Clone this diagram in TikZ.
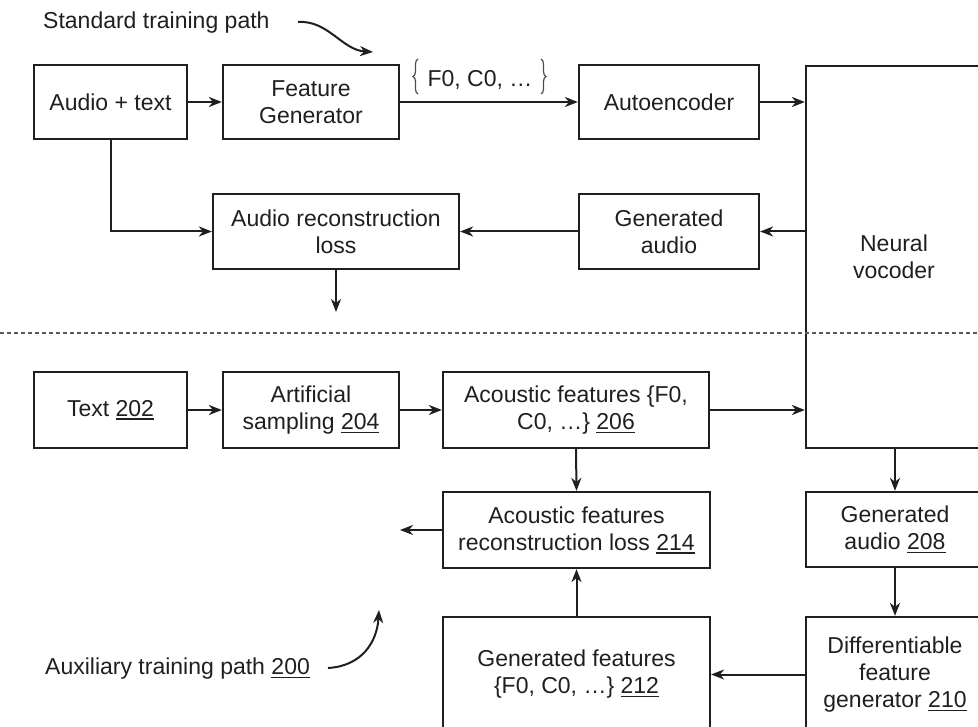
\documentclass[tikz,border=0pt]{standalone}
\usepackage{fontspec}
\setmainfont{Liberation Sans}
\usetikzlibrary{arrows.meta,decorations.pathreplacing}
\newcommand\ulnum[1]{\setbox0\hbox{#1}\rlap{\rule[-3.5pt]{\wd0}{1.4pt}}\box0}
\begin{document}
\begin{tikzpicture}[x=1pt,y=-1pt,
  box/.style={draw=black!88, line width=2.2pt, align=center, inner sep=0pt,
    font=\fontsize{23}{27}\selectfont, text=black!88},
  arr/.style={draw=black!88, line width=2pt, -{Stealth[length=13pt,width=10pt,inset=4pt]}},
  curvearr/.style={draw=black!88, line width=2pt, -{Stealth[length=13pt,width=10pt,inset=4pt]}},
  lbl/.style={font=\fontsize{23}{27}\selectfont, inner sep=0pt, text=black!88},
  brc/.style={draw=black!70, line width=1.2pt, decorate, decoration={brace, amplitude=5pt}},
]
\useasboundingbox (0,0) rectangle (978,727);
\clip (0,0) rectangle (978,727);

% top half
\node[box, minimum width=153pt, minimum height=74pt] (at) at (110.5,102) {Audio + text};
\node[box, minimum width=176pt, minimum height=74pt] (fg) at (311,102) {Feature\\Generator};
\node[box, minimum width=180pt, minimum height=74pt] (ae) at (669,102) {Autoencoder};
\node[box, minimum width=176pt, minimum height=382pt] (voc) at (894,257) {Neural\\vocoder};
\node[box, minimum width=246pt, minimum height=75pt] (arl) at (336,231.5) {Audio reconstruction\\loss};
\node[box, minimum width=180pt, minimum height=75pt] (ga) at (669,231.5) {Generated\\audio};

% bottom half
\node[box, minimum width=153pt, minimum height=76pt] (t202) at (110.5,410) {Text \ulnum{202}};
\node[box, minimum width=176pt, minimum height=76pt] (as) at (311,410) {Artificial\\sampling \ulnum{204}};
\node[box, minimum width=266pt, minimum height=76pt] (af) at (576,410) {Acoustic features \{F0,\\C0, \dots\} \ulnum{206}};
\node[box, minimum width=267pt, minimum height=76pt] (afl) at (576.5,530) {Acoustic features\\reconstruction loss \ulnum{214}};
\node[box, minimum width=267pt, minimum height=115pt] (gf) at (576.5,674.5) {Generated features\\\{F0, C0, \dots\} \ulnum{212}};
\node[box, minimum width=178pt, minimum height=75pt] (ga2) at (895,529.5) {Generated\\audio \ulnum{208}};
\node[box, minimum width=178pt, minimum height=115pt] (dfg) at (895,674.5) {Differentiable\\feature\\generator \ulnum{210}};

% feature brace label
\node[lbl, anchor=base] (feat) at (480,87) {F0, C0, \dots};
\coordinate (lb1) at (418,94); \coordinate (lb2) at (418,59);
\coordinate (rb1) at (541,59); \coordinate (rb2) at (541,94);
\draw[brc] (lb1) -- (lb2);
\draw[brc] (rb1) -- (rb2);

% connectors top
\draw[arr] (at.east) -- (fg.west);
\draw[arr] (fg.east) -- (ae.west);
\draw[arr] (ae.east) -- (ae.east -| voc.west);
\draw[arr] (ga.east -| voc.west) -- (ga.east);
\draw[arr] (ga.west) -- (arl.east);
\draw[arr] (at.south) |- (arl.west);
\coordinate (arlout) at (336,312);
\draw[arr] (arl.south) -- (arlout);

% dashed separator
\coordinate (dl) at (0,333); \coordinate (dr) at (978,333);
\draw[draw=black!65, line width=1.3pt, dash pattern=on 4pt off 3pt] (dl) -- (dr);

% connectors bottom
\draw[arr] (t202.east) -- (as.west);
\draw[arr] (as.east) -- (af.west);
\draw[arr] (af.east) -- (af.east -| voc.west);
\draw[arr] (af.south) -- (afl.north);
\draw[arr] (gf.north) -- (afl.south);
\coordinate (aflout) at (400,530);
\draw[arr] (afl.west) -- (aflout);
\draw[arr] (ga2.north |- voc.south) -- (ga2.north);
\draw[arr] (ga2.south) -- (dfg.north);
\draw[arr] (dfg.west) -- (gf.east);

% path labels
\node[lbl, anchor=west] (std) at (43,23) {Standard training path};
\coordinate (s1) at (298,22); \coordinate (s2) at (373,52);
\draw[curvearr] (s1) .. controls (328,20) and (342,50) .. (s2);
\node[lbl, anchor=west] (aux) at (45,669) {Auxiliary training path \ulnum{200}};
\coordinate (a1) at (328,668); \coordinate (a2) at (379,610);
\draw[curvearr] (a1) .. controls (362,666) and (377,642) .. (a2);
\end{tikzpicture}
\end{document}
